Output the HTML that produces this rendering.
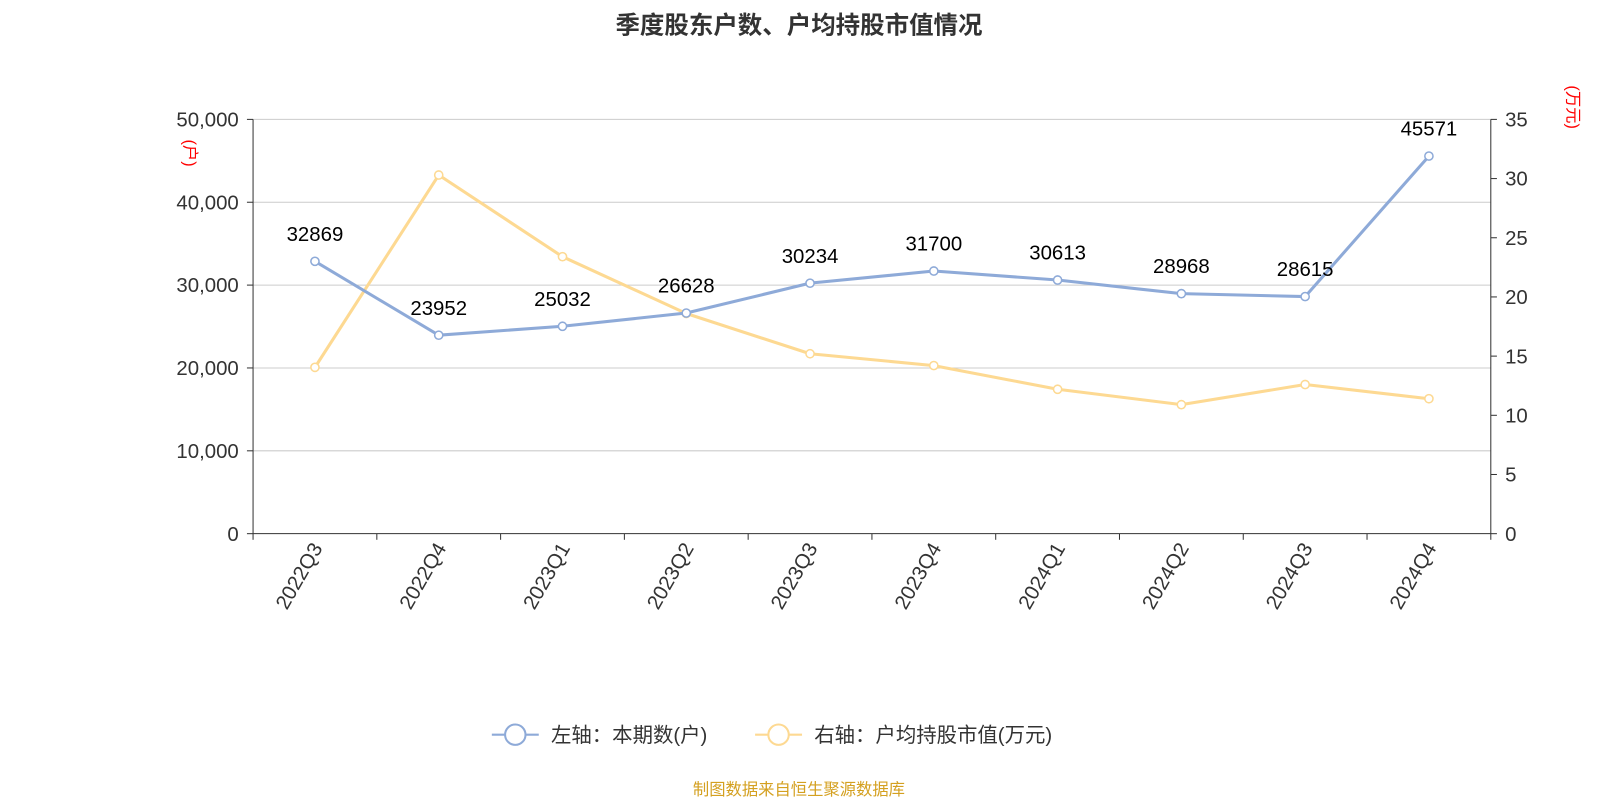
<!DOCTYPE html>
<html><head><meta charset="utf-8">
<style>
html,body{margin:0;padding:0;background:#fff;}
svg{display:block;font-family:"Liberation Sans","Noto Sans CJK SC",sans-serif;}
</style></head>
<body>
<svg id="chart" width="1600" height="800" xmlns="http://www.w3.org/2000/svg">
<g transform="scale(1.0204)">
<text x="783" y="33" text-anchor="middle" font-size="24" font-weight="bold" fill="#333">季度股东户数、户均持股市值情况</text>
<g id="grid"></g>
<g id="axes"></g>
<g id="series"></g>
<text transform="translate(181,150) rotate(90)" text-anchor="middle" font-size="16" fill="#f00">(户)</text>
<text transform="translate(1536,105) rotate(90)" text-anchor="middle" font-size="16" fill="#f00">(万元)</text>
<g>
<g>
<line x1="482" y1="720" x2="528" y2="720" stroke="#8eaad8" stroke-width="2"/>
<circle cx="505" cy="720" r="10" fill="#fff" stroke="#8eaad8" stroke-width="2"/>
<text x="540" y="727" font-size="20" fill="#333">左轴：本期数(户)</text>
</g>
<g>
<line x1="740" y1="720" x2="786" y2="720" stroke="#fdd992" stroke-width="2"/>
<circle cx="763" cy="720" r="10" fill="#fff" stroke="#fdd992" stroke-width="2"/>
<text x="798" y="727" font-size="20" fill="#333">右轴：户均持股市值(万元)</text>
</g>
</g>
<text x="783" y="779" text-anchor="middle" font-size="16" fill="#d4a020">制图数据来自恒生聚源数据库</text>
</g>
</svg>
<script>
const categories=["2022Q3","2022Q4","2023Q1","2023Q2","2023Q3","2023Q4","2024Q1","2024Q2","2024Q3","2024Q4"];
const households=[32869,23952,25032,26628,30234,31700,30613,28968,28615,45571];
const avgValue=[14.05,30.3,23.4,18.6,15.2,14.2,12.2,10.9,12.6,11.4];
const leftTicks=[0,10000,20000,30000,40000,50000];
const rightTicks=[0,5,10,15,20,25,30,35];
const NS="http://www.w3.org/2000/svg";
const L=248,R=1461,T=117,B=523;
const band=(R-L)/categories.length;
const xPos=i=>L+band*(i+0.5);
const yL=v=>B-(v/50000)*(B-T);
const yR=v=>B-(v/35)*(B-T);
function mk(tag,attrs,parent){const e=document.createElementNS(NS,tag);for(const k in attrs)e.setAttribute(k,attrs[k]);parent.appendChild(e);return e;}
const grid=document.getElementById('grid'),axes=document.getElementById('axes'),series=document.getElementById('series');
leftTicks.forEach(t=>{
  const y=yL(t);
  if(t>0){const g=mk('line',{x1:L,x2:R,y1:y,y2:y,stroke:'#ccc','stroke-width':1},grid);
  
  }
  const tk=mk('line',{x1:L-6,x2:L,y1:y,y2:y,stroke:'#333'},axes);
  
  
  const tx=mk('text',{x:L-14,y:y+7,'text-anchor':'end','font-size':20,fill:'#333'},axes);
  tx.textContent=t.toLocaleString('en-US');
  
  
});
rightTicks.forEach(t=>{
  const y=yR(t);
  const tk=mk('line',{x1:R,x2:R+6,y1:y,y2:y,stroke:'#333'},axes);
  
  
  const tx=mk('text',{x:R+14,y:y+7,'font-size':20,fill:'#333'},axes);
  tx.textContent=t;
  
  
});
const la=mk('line',{x1:L,x2:L,y1:T,y2:B,stroke:'#333'},axes);


const ra=mk('line',{x1:R,x2:R,y1:T,y2:B,stroke:'#333'},axes);


const xa=mk('line',{x1:L,x2:R,y1:B,y2:B,stroke:'#333'},axes);


for(let i=0;i<=categories.length;i++){
  const x=L+band*i;
  const tk=mk('line',{x1:x,x2:x,y1:B,y2:B+6,stroke:'#333'},axes);
  
  
}
categories.forEach((c,i)=>{
  const x=xPos(i);
  const tx=mk('text',{transform:`translate(${x+8},${B+14}) rotate(-60)`,'text-anchor':'end','font-size':20,fill:'#333'},axes);
  tx.textContent=c;
  
  
});
function drawLine(vals,yf,color,name,labels){
  const pts=vals.map((v,i)=>xPos(i)+','+yf(v)).join(' ');
  const pl=mk('polyline',{points:pts,fill:'none',stroke:color,'stroke-width':3,'stroke-linejoin':'round'},series);
  
  
  vals.forEach((v,i)=>{
    const c=mk('circle',{cx:xPos(i),cy:yf(v),r:4,fill:'#fff',stroke:color,'stroke-width':1.5},series);
    
    
    if(labels){
      const t=mk('text',{x:xPos(i),y:yf(v)-20,'text-anchor':'middle','font-size':20,fill:'#000'},series);
      t.textContent=v;
      
      
    }
  });
}
drawLine(avgValue,yR,'#fdd992','avg-value',false);
drawLine(households,yL,'#8eaad8','households',true);
</script>
</body></html>
